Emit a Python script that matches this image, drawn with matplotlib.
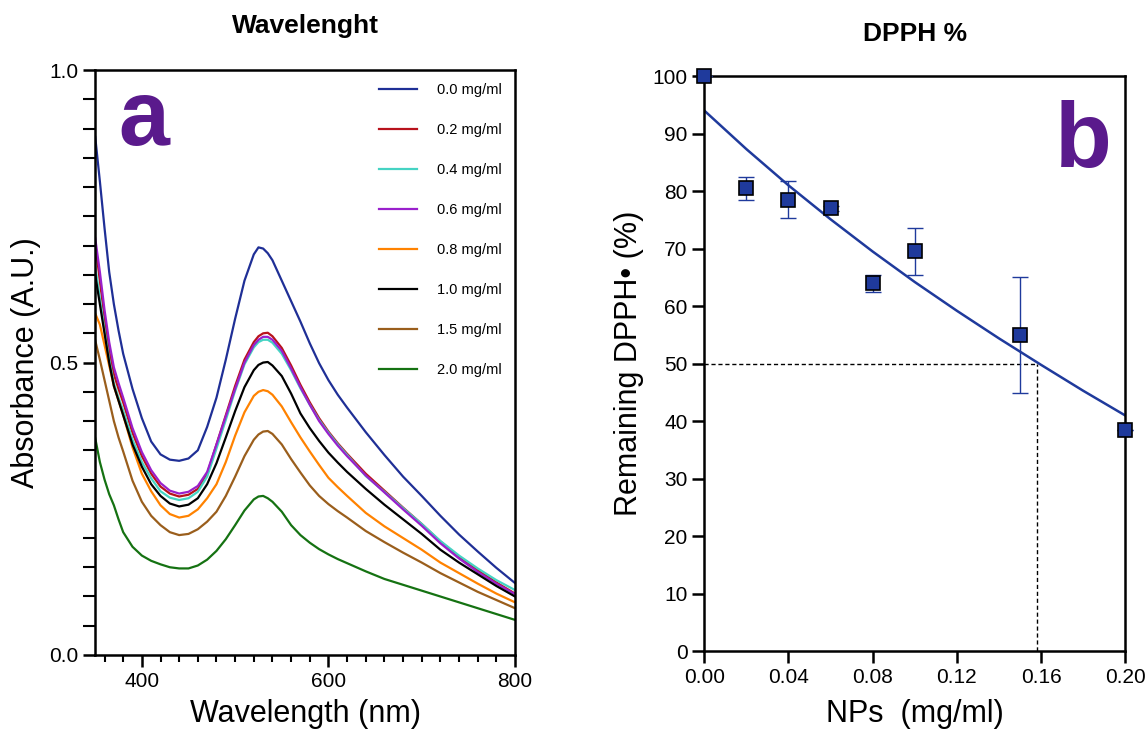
import matplotlib
matplotlib.use("Agg")
import matplotlib.pyplot as plt
from matplotlib.ticker import MultipleLocator

plt.rcParams['font.family'] = ['Liberation Sans', 'DejaVu Sans']

# ---- panel a: UV-vis spectra ----
wavelength = [350, 355, 360, 365, 370, 375, 380, 390, 400, 410, 420, 430, 440, 450,
              460, 470, 480, 490, 500, 510, 520, 525, 530, 535, 540, 550, 560, 570,
              580, 590, 600, 610, 620, 640, 660, 680, 700, 720, 740, 760, 780, 800]

abs_00 = [.886, .81, .73, .655, .60, .555, .515, .455, .405, .365, .343, .334, .332, .336,
          .35, .39, .44, .505, .575, .64, .685, .697, .695, .687, .675, .64, .605, .57,
          .533, .499, .47, .445, .423, .381, .342, .305, .272, .238, .206, .177, .149, .123]
abs_02 = [.704, .64, .575, .52, .48, .455, .432, .38, .34, .31, .288, .276, .271, .274,
          .284, .31, .36, .41, .46, .505, .535, .545, .55, .551, .545, .525, .495, .462,
          .432, .405, .382, .362, .344, .31, .281, .252, .224, .194, .168, .145, .124, .105]
abs_04 = [.664, .61, .555, .505, .465, .44, .418, .368, .33, .302, .28, .269, .265, .268,
          .279, .305, .353, .402, .452, .497, .526, .535, .539, .539, .534, .515, .487, .456,
          .428, .402, .38, .36, .342, .306, .279, .251, .224, .195, .17, .148, .128, .111]
abs_06 = [.713, .655, .59, .535, .492, .465, .44, .388, .347, .316, .294, .281, .276, .279,
          .289, .313, .36, .408, .455, .50, .53, .539, .544, .544, .539, .52, .49, .458,
          .428, .40, .378, .358, .34, .307, .278, .249, .221, .191, .165, .142, .122, .104]
abs_08 = [.584, .565, .53, .495, .46, .435, .41, .355, .31, .28, .256, .241, .235, .238,
          .249, .268, .292, .33, .375, .415, .443, .45, .453, .451, .445, .425, .398, .372,
          .348, .325, .303, .287, .272, .243, .22, .20, .18, .158, .14, .122, .105, .09]
abs_10 = [.65, .60, .55, .50, .46, .435, .41, .36, .322, .292, .272, .259, .254, .257,
          .268, .292, .328, .372, .417, .458, .487, .496, .50, .501, .495, .477, .447, .413,
          .388, .366, .346, .329, .313, .284, .257, .232, .207, .18, .158, .138, .118, .10]
abs_15 = [.538, .505, .47, .435, .40, .372, .348, .298, .262, .238, .222, .21, .205, .207,
          .215, .228, .245, .272, .305, .34, .368, .377, .382, .383, .378, .36, .335, .312,
          .29, .272, .258, .246, .235, .212, .193, .175, .158, .14, .124, .108, .094, .08]
abs_20 = [.371, .33, .30, .275, .256, .232, .21, .185, .17, .161, .155, .15, .148, .148,
          .153, .163, .178, .198, .222, .247, .266, .271, .272, .268, .262, .245, .222, .205,
          .192, .181, .172, .164, .157, .143, .130, .120, .110, .100, .090, .080, .070, .060]

conc_labels = ['0.0 mg/ml', '0.2 mg/ml', '0.4 mg/ml', '0.6 mg/ml',
               '0.8 mg/ml', '1.0 mg/ml', '1.5 mg/ml', '2.0 mg/ml']
spectra = [abs_00, abs_02, abs_04, abs_06, abs_08, abs_10, abs_15, abs_20]
colors = ['#1f2f96', '#b8121c', '#45d3c3', '#9a20cc', '#ff8200', '#000000', '#9a5e1c', '#157212']

# ---- panel b: DPPH scavenging ----
nps = [0.0, 0.02, 0.04, 0.06, 0.08, 0.10, 0.15, 0.20]
dpph = [100, 80.5, 78.5, 77, 64, 69.5, 55, 38.5]
dpph_err = [0, 2, 3.2, 0.4, 1.5, 4, 10.1, 0]
fit_x = [0.0, 0.02, 0.04, 0.06, 0.08, 0.10, 0.12, 0.14, 0.16, 0.18, 0.20]
fit_y = [94, 87.3, 81.0, 75.1, 69.5, 64.2, 59.2, 54.4, 49.8, 45.3, 41.0]
ic50_x = 0.158
ic50_y = 50

purple = '#5a1a8c'
navy = '#1f3a9c'

fig = plt.figure(figsize=(11.47, 7.31), dpi=100)
ax1 = fig.add_axes([0.083, 0.104, 0.366, 0.800])
ax2 = fig.add_axes([0.614, 0.109, 0.367, 0.787])

for vals, lab, col in zip(spectra, conc_labels, colors):
    ax1.plot(wavelength, vals, color=col, lw=1.6, label=lab)

ax1.set_xlim(350, 800)
ax1.set_ylim(0, 1.0)
ax1.set_xticks([400, 600, 800])
ax1.xaxis.set_minor_locator(MultipleLocator(20))
ax1.set_yticks([0.0, 0.5, 1.0])
ax1.yaxis.set_minor_locator(MultipleLocator(0.05))
ax1.tick_params(axis='both', which='major', direction='out', length=8.5, width=1.8, labelsize=15)
ax1.tick_params(axis='x', which='minor', direction='out', length=5, width=1.5)
ax1.tick_params(axis='y', which='minor', direction='out', length=8.5, width=1.5)
for sp in ax1.spines.values():
    sp.set_linewidth(1.8)
ax1.set_xlabel('Wavelength (nm)', fontsize=22, labelpad=6)
ax1.set_ylabel('Absorbance (A.U.)', fontsize=22, labelpad=6)
ax1.set_title('Wavelenght', fontsize=19, fontweight='bold', pad=26.5)
ax1.text(0.055, 0.872, 'a', transform=ax1.transAxes, fontsize=66, fontweight='bold',
         color=purple, ha='left', va='baseline')
ax1.legend(loc='upper right', bbox_to_anchor=(1.0, 1.0), frameon=False, fontsize=10.5,
           labelspacing=1.78, handlelength=2.6, handletextpad=1.4)

ax2.errorbar(nps, dpph, yerr=dpph_err, fmt='none', ecolor=navy, elinewidth=1.0,
             capsize=6, capthick=1.0, clip_on=False, zorder=3)
ax2.plot(nps, dpph, ls='none', marker='s', ms=10, mfc=navy, mec='black', mew=1.2,
         clip_on=False, zorder=4)
ax2.plot(fit_x, fit_y, color=navy, lw=1.8, zorder=2)
ax2.plot([0, ic50_x], [ic50_y, ic50_y], color='black', ls='--', lw=1.0, dashes=(3, 2))
ax2.plot([ic50_x, ic50_x], [0, ic50_y], color='black', ls='--', lw=1.0, dashes=(3, 2))

ax2.set_xlim(0, 0.20)
ax2.set_ylim(0, 100)
ax2.set_xticks([0.00, 0.04, 0.08, 0.12, 0.16, 0.20])
ax2.set_xticklabels(['0.00', '0.04', '0.08', '0.12', '0.16', '0.20'])
ax2.set_yticks(range(0, 101, 10))
ax2.tick_params(axis='both', direction='out', length=8.5, width=1.8, labelsize=15)
for sp in ax2.spines.values():
    sp.set_linewidth(1.8)
ax2.set_xlabel('NPs  (mg/ml)', fontsize=22, labelpad=9)
ax2.set_ylabel('Remaining DPPH\u2022 (%)', fontsize=22, labelpad=6)
ax2.set_title('DPPH %', fontsize=19, fontweight='bold', pad=25.5)
ax2.text(0.834, 0.842, 'b', transform=ax2.transAxes, fontsize=67, fontweight='bold',
         color=purple, ha='left', va='baseline')

fig.savefig('out.png', dpi=100)
